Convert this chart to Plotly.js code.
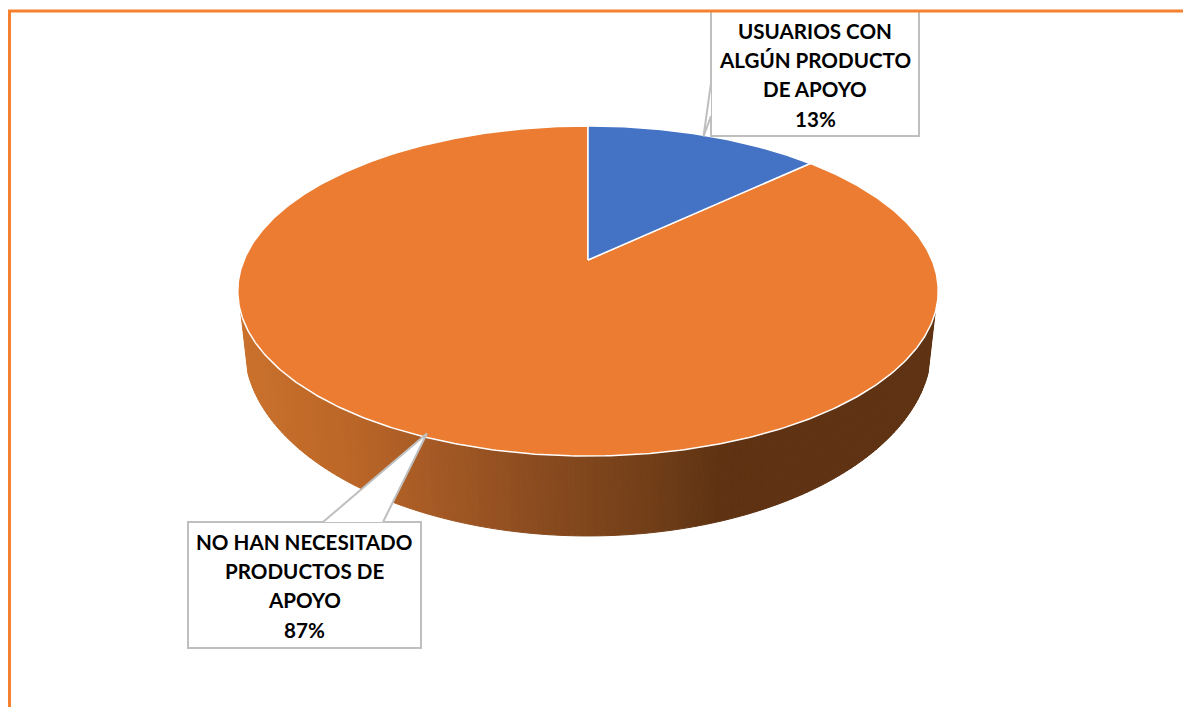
<!DOCTYPE html>
<html>
<head>
<meta charset="utf-8">
<script src="https://cdn.plot.ly/plotly-3.0.1.min.js"></script>
<style>html,body{margin:0;padding:0;background:#fff;overflow:hidden}</style>
</head>
<body>
<div id="chart" style="width:1183px;height:707px"></div>
<script>
const categoryLines = [["USUARIOS CON", "ALGÚN PRODUCTO", "DE APOYO"], ["NO HAN NECESITADO", "PRODUCTOS DE", "APOYO"]];
const shares = [13, 87];
const sliceColors = ["#4472C4", "#EB7C31"];
const rimStopsX = [241, 350, 430, 540, 640, 725, 940];
const rimStopsR = [202, 187, 166, 138, 116, 94, 94];
const rimStopsG = [113, 102, 90, 75, 64, 50, 50];
const rimStopsB = [44, 39, 37, 31, 25, 18, 18];

// Projection of the tilted disc onto the page
const CX = 588, CY = 260, A = 344, B = 159.2, K = 0.1879;
const RIM_DEPTH = 52.7, RIM_SHRINK = 0.98, RIM_V = -0.313;

function discTop(t) {
  const u = Math.sin(t), v = Math.cos(t), w = 1 + K * v;
  return [CX + A * u / w, CY - B * v / w];
}
function discBottom(t) {
  const p = discTop(t), w = 1 + K * Math.cos(t);
  return [CX + (p[0] - CX) * RIM_SHRINK, p[1] + RIM_DEPTH / (w * w)];
}
function lerp(xs, ys, x) {
  for (let i = 1; i < xs.length; i++) {
    if (x <= xs[i]) return ys[i-1] + (ys[i] - ys[i-1]) * (x - xs[i-1]) / (xs[i] - xs[i-1]);
  }
  return ys[ys.length - 1];
}
const total = shares.reduce((a, b) => a + b, 0);
const toAngle = s => s / total * 2 * Math.PI;

const traces = [];
// rim strips, left to right along the front
const tStart = 2 * Math.PI - Math.acos(RIM_V), tEnd = Math.acos(RIM_V);
const STEPS = 160;
for (let i = 0; i < STEPS; i++) {
  const t0 = tStart + (tEnd - tStart) * i / STEPS;
  const t1 = tStart + (tEnd - tStart) * (i + 1) / STEPS;
  const a = discTop(t0), b = discTop(t1), c = discBottom(t1), d = discBottom(t0);
  const mx = (a[0] + b[0]) / 2;
  const col = `rgb(${Math.round(lerp(rimStopsX, rimStopsR, mx))},${Math.round(lerp(rimStopsX, rimStopsG, mx))},${Math.round(lerp(rimStopsX, rimStopsB, mx))})`;
  traces.push({type: "scatter", mode: "lines", x: [a[0], b[0], c[0], d[0], a[0]], y: [a[1], b[1], c[1], d[1], a[1]],
    fill: "toself", fillcolor: col, line: {color: col, width: 1}, hoverinfo: "skip", showlegend: false});
}
// top slices
function wedge(s0, s1, color) {
  const xs = [CX], ys = [CY], n = Math.max(4, Math.round((s1 - s0) * 6));
  for (let i = 0; i <= n; i++) {
    const p = discTop(toAngle(s0 + (s1 - s0) * i / n));
    xs.push(p[0]); ys.push(p[1]);
  }
  xs.push(CX); ys.push(CY);
  return {type: "scatter", mode: "lines", x: xs, y: ys, fill: "toself", fillcolor: color,
    line: {color: "#ffffff", width: 1.5}, hoverinfo: "skip", showlegend: false};
}
let acc = 0; const mids = [];
const wedges = shares.map((s, i) => { const w = wedge(acc, acc + s, sliceColors[i]); mids.push(discTop(toAngle(acc + s / 2))); acc += s; return w; });
traces.push(wedges[1], wedges[0]);

const GRAY = "#bfbfbf", FRAME = "#F5802F";
const box = (x0, y0, x1, y1) => ({type: "rect", xref: "x", yref: "y", x0, y0, x1, y1, fillcolor: "#fff", line: {color: GRAY, width: 2}, layer: "above"});
const leader = (a, tip, b) => [
  {type: "path", xref: "x", yref: "y", path: `M${a[0]},${a[1]}L${tip[0]},${tip[1]}L${b[0]},${b[1]}Z`, fillcolor: "#fff", line: {width: 0}, layer: "above"},
  {type: "path", xref: "x", yref: "y", path: `M${a[0]},${a[1]}L${tip[0]},${tip[1]}L${b[0]},${b[1]}`, line: {color: GRAY, width: 2}, layer: "above"}
];
const shapes = [
  box(711, 4, 919, 136),
  ...leader([711, 83], [mids[0][0] - 1, mids[0][1] + 1], [711, 116]),
  box(188, 522, 421, 648),
  ...leader([323, 522], [mids[1][0] + 4, mids[1][1] - 3], [383, 522]),
  {type: "rect", xref: "x", yref: "y", x0: -5, y0: -5, x1: 1183, y1: 11, fillcolor: "#fff", line: {width: 0}, layer: "above"},
  {type: "path", xref: "x", yref: "y", path: "M9.5,720L9.5,11L1200,11", line: {color: FRAME, width: 3}, layer: "above"}
];
const labelX = [815, 304];
const labelY = [[31, 60, 89, 119], [542, 571, 600, 630]];
const annotations = [];
categoryLines.forEach((lines, i) => {
  [...lines, shares[i] + "%"].forEach((txt, j) => annotations.push({
    xref: "x", yref: "y", x: labelX[i], y: labelY[i][j], xanchor: "center", yanchor: "middle",
    showarrow: false, align: "center", text: `<b>${txt}</b>`,
    font: {family: "Lato, Carlito, sans-serif", size: 20.6, color: "#000"}
  }));
});
Plotly.newPlot("chart", traces, {
  width: 1183, height: 707, margin: {l: 0, r: 0, t: 0, b: 0},
  paper_bgcolor: "#fff", plot_bgcolor: "#fff", showlegend: false, hovermode: false,
  xaxis: {range: [0, 1183], visible: false, fixedrange: true},
  yaxis: {range: [707, 0], visible: false, fixedrange: true},
  shapes, annotations
}, {displayModeBar: false, staticPlot: true});
</script>
</body>
</html>
